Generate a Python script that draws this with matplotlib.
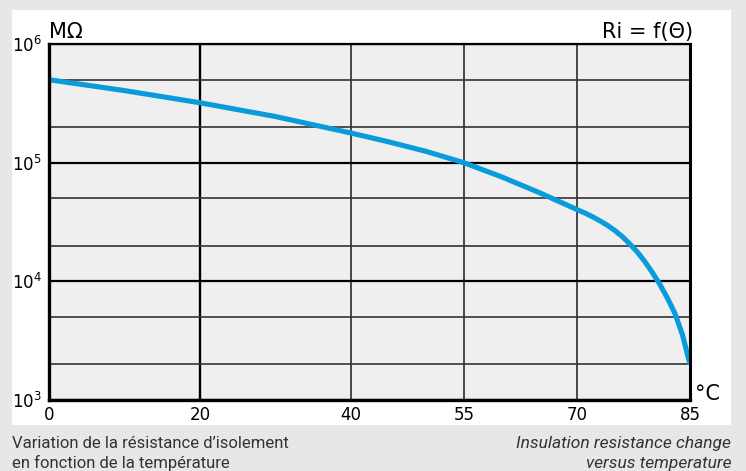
import matplotlib
matplotlib.use("Agg")
import matplotlib.pyplot as plt
from matplotlib.patches import Rectangle
from matplotlib.ticker import LogLocator, NullFormatter, FixedLocator

# insulation resistance vs temperature
temp_c = [0, 10, 20, 30, 40, 45, 50, 55, 60, 65, 70, 71, 72, 73, 74, 75, 76, 77, 78, 79,
          80, 81, 82, 83, 84, 85]
resistance_mohm = [5e5, 4.05e5, 3.2e5, 2.45e5, 1.78e5, 1.5e5, 1.245e5, 1e5, 7.6e4, 5.6e4,
                   4.03e4, 3.78e4, 3.52e4, 3.25e4, 2.98e4, 2.69e4, 2.39e4, 2.07e4, 1.77e4,
                   1.47e4, 1.19e4, 9.44e3, 7.24e3, 5.37e3, 3.55e3, 2e3]

x_ticks = [0, 20, 40, 55, 70, 85]
y_ticks = [1e3, 1e4, 1e5, 1e6]
y_tick_labels = [r"$10^3$", r"$10^4$", r"$10^5$", r"$10^6$"]

caption_fr = ["Variation de la résistance d’isolement", "en fonction de la température"]
caption_en = ["Insulation resistance change", "versus temperature"]

W, H = 746, 471
fig = plt.figure(figsize=(W / 100, H / 100), dpi=100)
fig.patch.set_facecolor("#e6e7e9")

# white card behind the chart
fig.patches.append(Rectangle((12 / W, 1 - 425 / H), (731 - 12) / W, (425 - 10) / H,
                             transform=fig.transFigure, facecolor="white", edgecolor="none", zorder=-1))

ax = fig.add_axes([49 / W, 1 - 400 / H, (690 - 49) / W, (400 - 44) / H])
ax.set_zorder(1)
ax.set_facecolor("#efefef")
ax.set_yscale("log")
ax.set_xlim(0, 85)
ax.set_ylim(1e3, 1e6)

ax.plot(temp_c, resistance_mohm, color="#0a9bdb", lw=3.7, solid_capstyle="butt",
        solid_joinstyle="round", zorder=3)

ax.xaxis.set_major_locator(FixedLocator(x_ticks))
ax.set_xticklabels([str(t) for t in x_ticks])
ax.yaxis.set_major_locator(FixedLocator(y_ticks))
ax.set_yticklabels(y_tick_labels)
ax.yaxis.set_minor_locator(LogLocator(base=10, subs=(2, 5)))
ax.yaxis.set_minor_formatter(NullFormatter())

ax.tick_params(axis="both", which="both", length=0)
ax.tick_params(axis="x", labelsize=12, pad=4)
ax.tick_params(axis="y", labelsize=12, pad=5)

ax.grid(True, axis="y", which="major", color="black", lw=1.6, zorder=1)
ax.grid(True, axis="y", which="minor", color="#333333", lw=1.2, zorder=1)
ax.grid(True, axis="x", which="major", color="#3a3a3a", lw=1.3, zorder=1)
ax.get_xgridlines()[1].set_color("black")
ax.get_xgridlines()[1].set_linewidth(1.7)

for side, lw in [("left", 2.4), ("bottom", 2.4), ("top", 1.6), ("right", 2.2)]:
    ax.spines[side].set_linewidth(lw)
    ax.spines[side].set_color("black")
    ax.spines[side].set_zorder(4)

fig.text(49 / W, 1 - 38 / H, "MΩ", fontsize=15, ha="left", va="baseline")
fig.text(693 / W, 1 - 38 / H, "Ri = f(Θ)", fontsize=15, ha="right", va="baseline")
fig.text(695 / W, 1 - 400 / H, "°C", fontsize=15, ha="left", va="baseline")

# two-line captions under the card
cap_font = ["Roboto", "DejaVu Sans"]
for i, line in enumerate(caption_fr):
    fig.text(12 / W, 1 - (448 + 20 * i) / H, line, fontsize=12, family=cap_font,
             color="#333333", ha="left", va="baseline")
for i, line in enumerate(caption_en):
    fig.text(731 / W, 1 - (448 + 20 * i) / H, line, fontsize=12.5, family=cap_font,
             style="italic", color="#333333", ha="right", va="baseline")

fig.savefig("out.png", dpi=100, facecolor=fig.get_facecolor())
